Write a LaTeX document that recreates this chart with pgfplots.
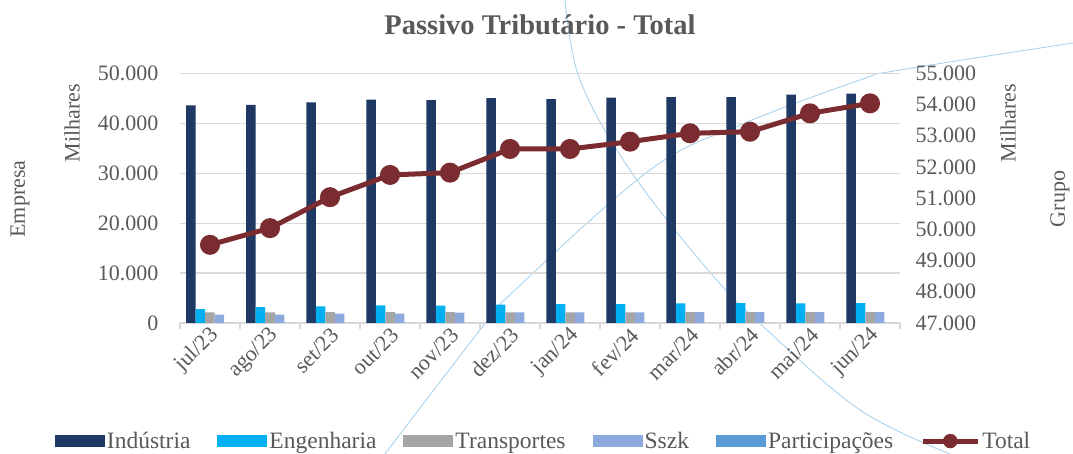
\documentclass[border=0pt]{standalone}
\usepackage{fontspec}
\setmainfont{Liberation Serif}
\usepackage{pgfplots}
\usepackage{pgfplotstable}
\pgfplotsset{compat=1.18}
\definecolor{ind}{HTML}{1F3864}
\definecolor{eng}{HTML}{00B0F0}
\definecolor{tra}{HTML}{A5A5A5}
\definecolor{ssz}{HTML}{8EA9DB}
\definecolor{par}{HTML}{5B9BD5}
\definecolor{tot}{HTML}{7B2C30}
\definecolor{txt}{HTML}{595959}
\definecolor{grd}{HTML}{D9D9D9}
\definecolor{deco}{HTML}{A9D2EC}
\pgfplotstableread{
x ind eng tra ssz par tot
0 43590 2800 2120 1660 0 49506
1 43670 3200 2120 1660 0 50040
2 44190 3330 2200 1860 0 51032
3 44730 3530 2200 1860 0 51745
4 44670 3460 2200 2060 0 51819
5 45070 3660 2120 2120 0 52578
6 44870 3800 2120 2120 0 52578
7 45130 3800 2120 2120 0 52811
8 45270 3930 2200 2200 0 53080
9 45270 4000 2200 2200 0 53131
10 45730 3930 2200 2200 0 53720
11 45930 4000 2200 2200 0 54040
}\data
\pgfplotsset{
  barleg/.style={legend image code/.code={\fill[##1] (0pt,-6pt) rectangle (50pt,6pt);}},
  common/.style={
    scale only axis, width=720pt, height=249.6pt, at={(0,0)}, anchor=south west,
    xmin=-0.5, xmax=11.5, scaled y ticks=false,
    ticklabel style={font=\fontsize{22}{26}\selectfont, text=txt},
    /pgf/number format/1000 sep={.},
    /pgf/number format/assume math mode=true,
    ytick style={draw=none},
  }
}
\newcommand{\lbl}{\fontsize{22}{26}\selectfont}
\begin{document}
\begin{tikzpicture}[x=1pt,y=1pt]
\useasboundingbox (-180,-131) rectangle (893,323);
\draw[deco, line width=0.9pt] plot[smooth, tension=0.6] coordinates {(385,323) (400,243) (450,153) (528,53) (587,-7) (680,-87) (770,-131)};
\draw[deco, line width=0.9pt] plot[smooth, tension=0.6] coordinates {(205,-131) (300,-7) (335,33) (470,153) (560,198) (680,243) (720,253) (893,280)};
\begin{axis}[common,
  ymin=0, ymax=50000,
  ybar=0pt, bar width=9.5pt,
  axis x line*=bottom, axis y line*=left,
  y axis line style={draw=none}, x axis line style={grd, line width=1.3pt},
  ytick={0,10000,...,50000},
  ymajorgrids, grid style={grd, line width=1.2pt},
  xtick={0,...,11},
  xticklabels={jul/23,ago/23,set/23,out/23,nov/23,dez/23,jan/24,fev/24,mar/24,abr/24,mai/24,jun/24},
  xtick style={draw=none},
  extra x ticks={-0.5,0.5,...,11.5}, extra x tick labels={},
  extra x tick style={xtick style={draw=grd, line width=1.2pt}, major tick length=6pt, tick align=outside, grid=none},
  xticklabel style={rotate=45, anchor=east, xshift=4pt, yshift=-7pt},
  yticklabel style={xshift=-18pt},
  legend style={at={(0.505,-0.473)}, anchor=center, draw=none, fill=none, legend columns=-1,
    font=\fontsize{23.5}{27}\selectfont, text=txt, /tikz/every even column/.append style={column sep=25pt}},
]
\addplot[fill=ind, draw=none, barleg] table[x=x,y=ind]{\data};
\addlegendentry{Indústria}
\addplot[fill=eng, draw=none, barleg] table[x=x,y=eng]{\data};
\addlegendentry{Engenharia}
\addplot[fill=tra, draw=none, barleg] table[x=x,y=tra]{\data};
\addlegendentry{Transportes}
\addplot[fill=ssz, draw=none, barleg] table[x=x,y=ssz]{\data};
\addlegendentry{Sszk}
\addplot[fill=par, draw=none, barleg] table[x=x,y=par]{\data};
\addlegendentry{Participações}
\addlegendimage{legend image code/.code={\draw[tot, line width=5pt] (0pt,0pt) -- (55pt,0pt); \fill[tot] (27.5pt,0pt) circle (7pt);}}
\addlegendentry{Total}
\end{axis}
\begin{axis}[common,
  ymin=47000, ymax=55000,
  axis y line*=right, axis x line=none,
  y axis line style={draw=none},
  ytick={47000,48000,...,55000},
  yticklabel style={xshift=12pt},
]
\addplot[tot, line width=5pt, mark=*, mark size=7.5pt, mark options={draw=none, fill=tot}] table[x=x,y=tot]{\data};
\end{axis}
\node[font=\bfseries\fontsize{28.5}{32}\selectfont, text=txt] at (360,298) {Passivo Tributário - Total};
\node[rotate=90, font=\lbl, text=txt] at (-108,200) {Milhares};
\node[rotate=90, font=\lbl, text=txt] at (-160,124) {Empresa};
\node[rotate=90, font=\lbl, text=txt] at (828,200) {Milhares};
\node[rotate=90, font=\lbl, text=txt] at (880,124) {Grupo};
\end{tikzpicture}
\end{document}
